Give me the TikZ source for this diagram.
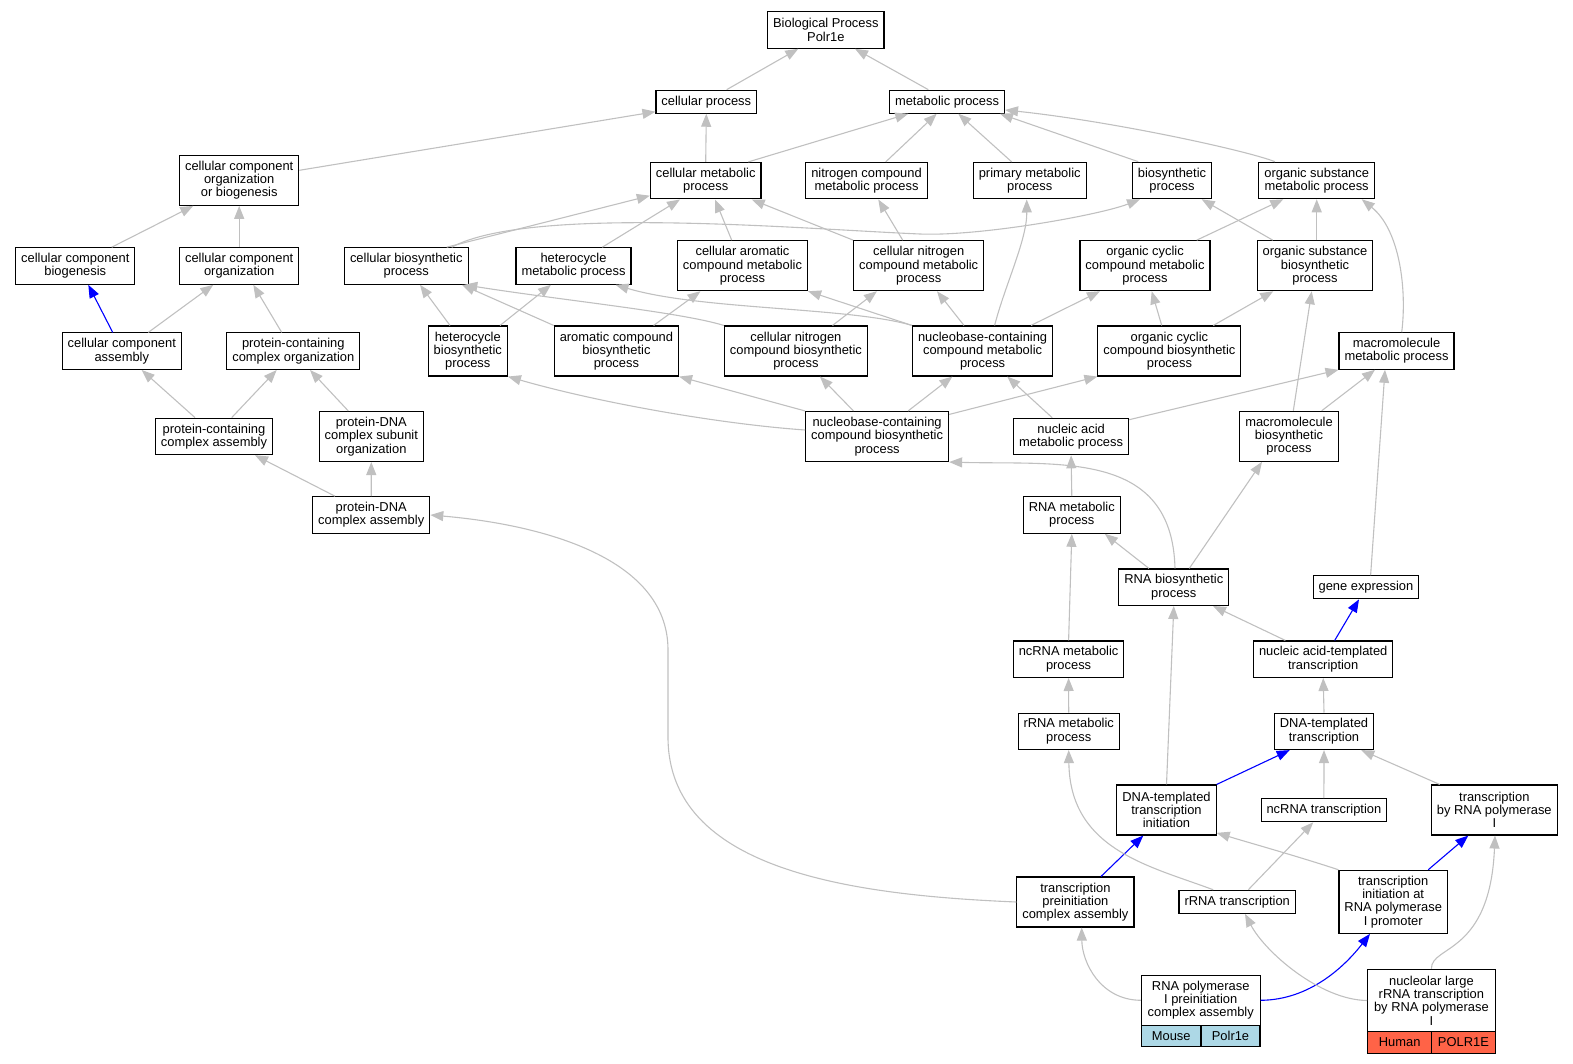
\documentclass[tikz,border=0pt]{standalone}
\usepackage{fontspec}
\setmainfont{Liberation Sans}
\usetikzlibrary{arrows.meta}
\definecolor{edgegray}{HTML}{C0C0C0}
\definecolor{mouseblue}{HTML}{ADD8E6}
\definecolor{humanred}{HTML}{FF6347}
\tikzset{
  term/.style={draw, line width=1.1pt, fill=white, inner xsep=5.5pt, inner ysep=1pt,
    align=center, font=\fontsize{12.9}{13.3}\selectfont},
  oneline/.style={minimum height=23pt},
  twolines/.style={minimum height=36.5pt},
  threelines/.style={minimum height=50pt},
  fourlines/.style={minimum height=63pt},
  cell/.style={term, minimum height=21.5pt, inner xsep=0pt},
  isa/.style={draw=edgegray, line width=1.1pt, -{Triangle[length=13pt,width=10pt]}},
  hit/.style={isa, draw=blue}
}
\begin{document}
\begin{tikzpicture}[x=1pt, y=-1pt]
    \useasboundingbox (0,0) rectangle (1573,1064);
    % terms
    \node[term, twolines] (root) at (825.8,30) {Biological Process\\Polr1e};
    \node[term, oneline] (cellproc) at (706.3,101.7) {cellular process};
    \node[term, oneline] (metproc) at (947,101.7) {metabolic process};
    \node[term, threelines] (ccob) at (239.2,180.3) {cellular component\\organization\\or biogenesis};
    \node[term, twolines] (cellmet) at (705.7,180.7) {cellular metabolic\\process};
    \node[term, twolines] (nitromet) at (866.5,180.7) {nitrogen compound\\metabolic process};
    \node[term, twolines] (primmet) at (1029.7,180.7) {primary metabolic\\process};
    \node[term, twolines] (biosyn) at (1172,180.5) {biosynthetic\\process};
    \node[term, twolines] (orgsubmet) at (1316.7,180.5) {organic substance\\metabolic process};
    \node[term, twolines] (ccbio) at (75.3,266) {cellular component\\biogenesis};
    \node[term, twolines] (ccorg) at (239.2,266) {cellular component\\organization};
    \node[term, twolines] (cellbio) at (406.3,266) {cellular biosynthetic\\process};
    \node[term, twolines] (hetmet) at (573.5,266) {heterocycle\\metabolic process};
    \node[term, threelines] (aromet) at (742.5,265.7) {cellular aromatic\\compound metabolic\\process};
    \node[term, threelines] (cellnitmet) at (918.7,265.7) {cellular nitrogen\\compound metabolic\\process};
    \node[term, threelines] (orgcycmet) at (1145,265.7) {organic cyclic\\compound metabolic\\process};
    \node[term, threelines] (orgsubbio) at (1315,265.7) {organic substance\\biosynthetic\\process};
    \node[term, twolines] (ccasm) at (121.8,351.2) {cellular component\\assembly};
    \node[term, twolines] (pcorg) at (293.3,351.2) {protein-containing\\complex organization};
    \node[term, threelines] (hetbio) at (467.8,351) {heterocycle\\biosynthetic\\process};
    \node[term, threelines] (arobio) at (616.4,351) {aromatic compound\\biosynthetic\\process};
    \node[term, threelines] (cellnitbio) at (795.9,351) {cellular nitrogen\\compound biosynthetic\\process};
    \node[term, threelines] (nucmet) at (982.6,351) {nucleobase-containing\\compound metabolic\\process};
    \node[term, threelines] (orgcycbio) at (1169.4,351) {organic cyclic\\compound biosynthetic\\process};
    \node[term, twolines] (macromet) at (1396.5,351) {macromolecule\\metabolic process};
    \node[term, twolines] (pcasm) at (214,436.4) {protein-containing\\complex assembly};
    \node[term, threelines] (pdnaorg) at (371.3,436.5) {protein-DNA\\complex subunit\\organization};
    \node[term, threelines] (nucbio) at (877.1,436.5) {nucleobase-containing\\compound biosynthetic\\process};
    \node[term, twolines] (nacmet) at (1071.1,436.5) {nucleic acid\\metabolic process};
    \node[term, threelines] (macrobio) at (1289,436.3) {macromolecule\\biosynthetic\\process};
    \node[term, twolines] (pdnaasm) at (371.2,515) {protein-DNA\\complex assembly};
    \node[term, twolines] (rnamet) at (1071.8,515) {RNA metabolic\\process};
    \node[term, twolines] (rnabio) at (1173.8,587.2) {RNA biosynthetic\\process};
    \node[term, oneline] (geneexp) at (1365.9,587.3) {gene expression};
    \node[term, twolines] (ncrnamet) at (1068.6,659.2) {ncRNA metabolic\\process};
    \node[term, twolines] (natrans) at (1323.2,659.2) {nucleic acid-templated\\transcription};
    \node[term, twolines] (rrnamet) at (1068.7,731.3) {rRNA metabolic\\process};
    \node[term, twolines] (dnatrans) at (1324,731.3) {DNA-templated\\transcription};
    \node[term, threelines] (dnainit) at (1166.5,810) {DNA-templated\\transcription\\initiation};
    \node[term, oneline] (ncrnatrans) at (1323.9,810.2) {ncRNA transcription};
    \node[term, threelines] (trpol) at (1494.3,810) {transcription\\by RNA polymerase\\I};
    \node[term, threelines] (tpcasm) at (1075.4,902) {transcription\\preinitiation\\complex assembly};
    \node[term, oneline] (rrnatrans) at (1237.2,901.8) {rRNA transcription};
    \node[term, fourlines] (tipol) at (1393.2,901.8) {transcription\\initiation at\\RNA polymerase\\I promoter};
    % annotated genes
    \node[term, threelines, minimum width=118.7pt] (rpic) at (1200.7,1000.3) {RNA polymerase\\I preinitiation\\complex assembly};
    \node[cell, fill=mouseblue, minimum width=59.7pt] (rpicA) at (1171.2,1036) {Mouse};
    \node[cell, fill=mouseblue, minimum width=59pt] (rpicB) at (1230.5,1036) {Polr1e};
    \node[term, fourlines, minimum width=127.3pt, minimum height=62.4pt] (nlr) at (1431.4,1000.5) {nucleolar large\\rRNA transcription\\by RNA polymerase\\I};
    \node[cell, fill=humanred, minimum width=64pt] (nlrA) at (1399.7,1042.5) {Human};
    \node[cell, fill=humanred, minimum width=63.3pt] (nlrB) at (1463.4,1042.5) {POLR1E};
    % is_a edges
    \draw[isa] ([xshift=20.4pt]cellproc.north) to ([xshift=-27.5pt]root.south);
    \draw[isa] ([xshift=-18.7pt]metproc.north) to ([xshift=29.2pt]root.south);
    \draw[isa] ([yshift=10pt]ccob.east) to ([yshift=-10pt]cellproc.west);
    \draw[isa] (cellmet.north) to (cellproc.south);
    \draw[isa] ([xshift=42.6pt]cellmet.north) to ([xshift=-38.7pt]metproc.south);
    \draw[isa] ([xshift=19.2pt]nitromet.north) to ([xshift=-10.3pt]metproc.south);
    \draw[isa] ([xshift=-18pt]primmet.north) to ([xshift=11.3pt]metproc.south);
    \draw[isa] ([xshift=-33.7pt]biosyn.north) to ([xshift=53pt]metproc.south);
    \draw[isa] ([xshift=-41.7pt]orgsubmet.north) .. controls (1245,150) and (1110,121) .. ([yshift=-8.3pt]metproc.east);
    \draw[isa] ([xshift=36.4pt]ccbio.north) to ([xshift=-45.9pt]ccob.south);
    \draw[isa] (ccorg.north) to (ccob.south);
    \draw[isa] ([xshift=40.4pt]cellbio.north) to ([yshift=-15pt]cellmet.west);
    \draw[isa] ([xshift=45.4pt]cellbio.north) .. controls (530,205) and (800,229) .. (920,234)
        .. controls (980,236.5) and (1100,215) .. ([xshift=-32pt]biosyn.south);
    \draw[isa] ([xshift=28.8pt]hetmet.north) to ([xshift=-25.7pt]cellmet.south);
    \draw[isa] ([xshift=-10.8pt]aromet.north) to ([xshift=9.3pt]cellmet.south);
    \draw[isa] (cellnitmet.north west) to ([xshift=46pt]cellmet.south);
    \draw[isa] ([xshift=-16pt]cellnitmet.north) to ([xshift=11.8pt]nitromet.south);
    \draw[isa] ([xshift=12pt]nucmet.north) .. controls (1005,285) and (1027,240) .. ([xshift=-3pt]primmet.south);
    \draw[isa] ([xshift=1.7pt]orgsubbio.north) to (orgsubmet.south);
    \draw[isa] ([xshift=-42.3pt]orgsubbio.north) to ([xshift=29.7pt]biosyn.south);
    \draw[isa] ([xshift=51.7pt]orgcycmet.north) to ([xshift=-33.4pt]orgsubmet.south);
    \draw[isa] ([xshift=5.2pt]macromet.north) .. controls (1407,290) and (1400,230) .. ([xshift=45pt]orgsubmet.south);
    \draw[isa] ([xshift=26.5pt]ccasm.north) to ([xshift=-25.9pt]ccorg.south);
    \draw[hit] ([xshift=-9.1pt]ccasm.north) to ([xshift=13pt]ccbio.south);
    \draw[isa] ([xshift=-11.6pt]pcorg.north) to ([xshift=14.1pt]ccorg.south);
    \draw[isa] ([xshift=-17.8pt]hetbio.north) to ([xshift=13.7pt]cellbio.south);
    \draw[isa] ([xshift=32.2pt]hetbio.north) to ([xshift=-22.5pt]hetmet.south);
    \draw[isa] (arobio.north west) to ([xshift=55.7pt]cellbio.south);
    \draw[isa] (cellnitbio.north west) .. controls (680,312) and (560,300) .. ([xshift=58pt]cellbio.south);
    \draw[isa] ([xshift=37.2pt]arobio.north) to ([xshift=-42pt]aromet.south);
    \draw[isa] ([xshift=36.6pt]cellnitbio.north) to ([xshift=-41.8pt]cellnitmet.south);
    \draw[isa] (nucmet.north west) .. controls (850,307) and (700,310) .. ([xshift=42pt]hetmet.south);
    \draw[isa] (nucmet.north west) to (aromet.south east);
    \draw[isa] ([xshift=-18.6pt]nucmet.north) to ([xshift=18.3pt]cellnitmet.south);
    \draw[isa] ([xshift=48.4pt]nucmet.north) to ([xshift=-45pt]orgcycmet.south);
    \draw[isa] ([xshift=-7.7pt]orgcycbio.north) to ([xshift=6.7pt]orgcycmet.south);
    \draw[isa] ([xshift=43.9pt]orgcycbio.north) to ([xshift=-41.7pt]orgsubbio.south);
    \draw[isa] ([xshift=4.3pt]macrobio.north) to ([xshift=-3.3pt]orgsubbio.south);
    \draw[isa] ([xshift=-19pt]pcasm.north) to ([xshift=19.9pt]ccasm.south);
    \draw[isa] ([xshift=17.7pt]pcasm.north) to ([xshift=-16.6pt]pcorg.south);
    \draw[isa] ([xshift=-23pt]pdnaorg.north) to ([xshift=16.7pt]pcorg.south);
    \draw[isa] ([yshift=-2pt]nacmet.north east) to (macromet.south west);
    \draw[isa] ([xshift=32.7pt]macrobio.north) to ([xshift=-21.5pt]macromet.south);
    \draw[isa] ([yshift=6.5pt]nucbio.west) .. controls (720,424) and (600,403) .. (hetbio.south east);
    \draw[isa] (nucbio.north west) to (arobio.south east);
    \draw[isa] ([xshift=-23.6pt]nucbio.north) to ([xshift=24pt]cellnitbio.south);
    \draw[isa] ([xshift=31pt]nucbio.north) to ([xshift=-30.2pt]nucmet.south);
    \draw[isa] ([yshift=-3.5pt]nucbio.north east) to (orgcycbio.south west);
    \draw[isa] ([xshift=-18.9pt]nacmet.north) to ([xshift=24.6pt]nucmet.south);
    \draw[isa] ([xshift=-36.2pt]pdnaasm.north) to ([xshift=41pt]pcasm.south);
    \draw[isa] (pdnaasm.north) to (pdnaorg.south);
    \draw[isa] (rnamet.north) to (nacmet.south);
    \draw[isa] ([xshift=1.2pt]rnabio.north) .. controls (1172,450) and (1060,465) .. (nucbio.south east);
    \draw[isa] ([xshift=-24.9pt]rnabio.north) to ([xshift=33pt]rnamet.south);
    \draw[isa] ([xshift=15.5pt]rnabio.north) to ([xshift=-27pt]macrobio.south);
    \draw[isa] ([xshift=4.7pt]geneexp.north) to ([xshift=-11.5pt]macromet.south);
    \draw[isa] (ncrnamet.north) to (rnamet.south);
    \draw[isa] ([xshift=-37.9pt]natrans.north) to ([xshift=39.2pt]rnabio.south);
    \draw[hit] ([xshift=11.5pt]natrans.north) to ([xshift=-6.9pt]geneexp.south);
    \draw[isa] (rrnamet.north) to (ncrnamet.south);
    \draw[isa] (dnatrans.north) to (natrans.south);
    \draw[isa] (dnainit.north) to (rnabio.south);
    \draw[hit] (dnainit.north east) to ([xshift=-34.3pt]dnatrans.south);
    \draw[isa] (ncrnatrans.north) to (dnatrans.south);
    \draw[isa] ([xshift=-54.6pt]trpol.north) to ([xshift=37.3pt]dnatrans.south);
    \draw[isa] (tpcasm.west) .. controls (850,895) and (668,870) .. (668,737)
        -- (668,650) .. controls (668,555) and (535,524) .. (pdnaasm.east);
    \draw[hit] ([xshift=25.6pt]tpcasm.north) to ([xshift=-23.2pt]dnainit.south);
    \draw[isa] ([xshift=-24pt]rrnatrans.north) .. controls (1150,866) and (1070,850) .. (rrnamet.south);
    \draw[isa] ([xshift=11.1pt]rrnatrans.north) to ([xshift=-10.6pt]ncrnatrans.south);
    \draw[isa] (tipol.north west) .. controls (1300,857) and (1250,843) .. ([yshift=2.7pt]dnainit.south east);
    \draw[hit] ([xshift=35pt]tipol.north) to ([xshift=-26pt]trpol.south);
    \draw[isa] (rpic.west) .. controls (1100,1000) and (1082,962) .. ([xshift=6.3pt]tpcasm.south);
    \draw[hit] (rpic.east) .. controls (1310,1000) and (1345,966) .. ([xshift=-23.2pt]tipol.south);
    \draw[isa] (nlr.west) .. controls (1320,1000) and (1265,952) .. ([xshift=7.8pt]rrnatrans.south);
    \draw[isa] (nlr.north) .. controls (1431,945) and (1490,955) .. ([xshift=0.7pt]trpol.south);
\end{tikzpicture}
\end{document}
